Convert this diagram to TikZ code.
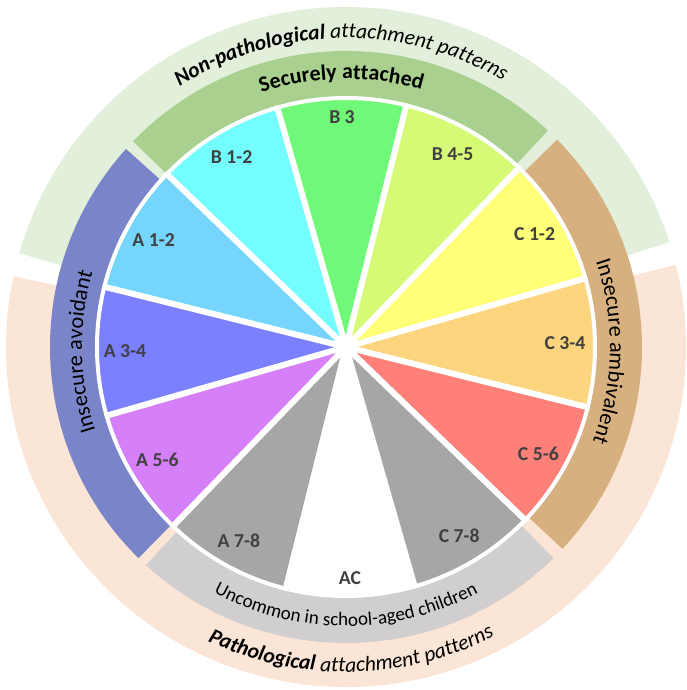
\documentclass[tikz,border=0pt]{standalone}
\usepackage{fontspec}
\setmainfont{Carlito}
\usepackage{tikz}
\usetikzlibrary{decorations.text}

\definecolor{outgreen}{RGB}{226,239,218}
\definecolor{outpink}{RGB}{251,229,214}
\definecolor{bandsec}{RGB}{169,208,142}
\definecolor{bandavo}{RGB}{122,132,200}
\definecolor{bandamb}{RGB}{214,176,127}
\definecolor{bandunc}{RGB}{208,206,206}
\definecolor{wBone}{RGB}{116,253,254}
\definecolor{wBthree}{RGB}{112,248,120}
\definecolor{wBfour}{RGB}{214,250,118}
\definecolor{wCone}{RGB}{255,255,120}
\definecolor{wCthree}{RGB}{253,213,126}
\definecolor{wCfive}{RGB}{255,127,121}
\definecolor{wgray}{RGB}{166,166,166}
\definecolor{wAfive}{RGB}{213,128,249}
\definecolor{wAthree}{RGB}{122,128,254}
\definecolor{wAone}{RGB}{117,213,252}
\definecolor{labgray}{RGB}{64,64,64}

\newcommand\ringbf{\fontsize{15.3}{18}\selectfont\bfseries\itshape}
\newcommand\ringit{\fontsize{15.3}{18}\selectfont\mdseries\itshape}
\newcommand\bandbf{\fontsize{15.6}{18}\selectfont\bfseries}
\newcommand\bandrm{\fontsize{15.8}{18}\selectfont}
\newcommand\uncrm{\fontsize{13.6}{16}\selectfont}

\begin{document}
\begin{tikzpicture}[x=0.25mm, y=0.25mm,
    wedgelab/.style={font=\fontsize{14}{16}\selectfont\bfseries, text=labgray},
    sep/.style={draw=white, line width=1.5mm},
    arctext/.style={decorate, decoration={text along path, text align=center, text={#1}}}]
    \useasboundingbox (-346,-343) rectangle (341,347);
    \begin{scope}[rotate=1]
    % Outer rings
    \fill[outgreen] (0,0) -- (17:340) arc[start angle=17, end angle=163, radius=340] -- cycle;
    \fill[outpink] (0,0) -- (167:340) arc[start angle=167, end angle=373, radius=340] -- cycle;
    % Bands round the wheel
    \def\rin{250}
    \def\rout{296}
    \foreach \a/\b/\col in {-44/43.5/bandamb, 46/135/bandsec, 137/224.5/bandavo, 226.5/313.5/bandunc}
        \fill[\col] (\a:\rin) arc[start angle=\a, end angle=\b, radius=\rin]
            -- (\b:\rout) arc[start angle=\b, end angle=\a, radius=\rout] -- cycle;
    % Wedges
    \foreach \ang/\col in {90/wBthree, 60/wBfour, 30/wCone, 0/wCthree, -30/wCfive, -60/wgray,
            -90/white, -120/wgray, -150/wAfive, 180/wAthree, 150/wAone, 120/wBone}
        \fill[\col] (0,0) -- ({\ang-15}:\rin) arc[start angle={\ang-15}, end angle={\ang+15}, radius=\rin] -- cycle;
    % White gaps
    \foreach \ang in {15,45,...,345}
        \draw[sep] (0,0) -- (\ang:251);
    \draw[sep, line width=1mm] (0,0) circle[radius=249];
    % Wedge labels
    \node[wedgelab] (lB3) at (90:230) {B 3};
    \node[wedgelab] (lB45) at (60:220) {B 4-5};
    \node[wedgelab] (lC12) at (30:220) {C 1-2};
    \node[wedgelab] (lC34) at (0:219) {C 3-4};
    \node[wedgelab] (lC56) at (-30:220) {C 5-6};
    \node[wedgelab] (lC78) at (-60:220) {C 7-8};
    \node[wedgelab] (lAC) at (-90:231) {AC};
    \node[wedgelab] (lA78) at (-120:221) {A 7-8};
    \node[wedgelab] (lA56) at (-150:220) {A 5-6};
    \node[wedgelab] (lA34) at (180:221) {A 3-4};
    \node[wedgelab] (lA12) at (150:220) {A 1-2};
    \node[wedgelab] (lB12) at (120:222) {B 1-2};
    % Curved texts
    \path[arctext={|\ringbf|Non-pathological |\ringit|attachment patterns}]
        (150:309) arc[start angle=150, end angle=30, radius=309];
    \path[arctext={|\ringbf|Pathological |\ringit|attachment patterns}]
        (210:325) arc[start angle=210, end angle=330, radius=325];
    \path[arctext={|\bandbf|Securely attached}]
        (135:268) arc[start angle=135, end angle=45, radius=268];
    \path[arctext={|\bandrm|Insecure avoidant}]
        (225:264) arc[start angle=225, end angle=135, radius=264];
    \path[arctext={|\bandrm|Insecure ambivalent}]
        (43:264) arc[start angle=43, end angle=-47, radius=264];
    \path[arctext={|\uncrm|Uncommon in school-aged children}]
        (224:279) arc[start angle=224, end angle=314, radius=279];
    \end{scope}
\end{tikzpicture}
\end{document}
